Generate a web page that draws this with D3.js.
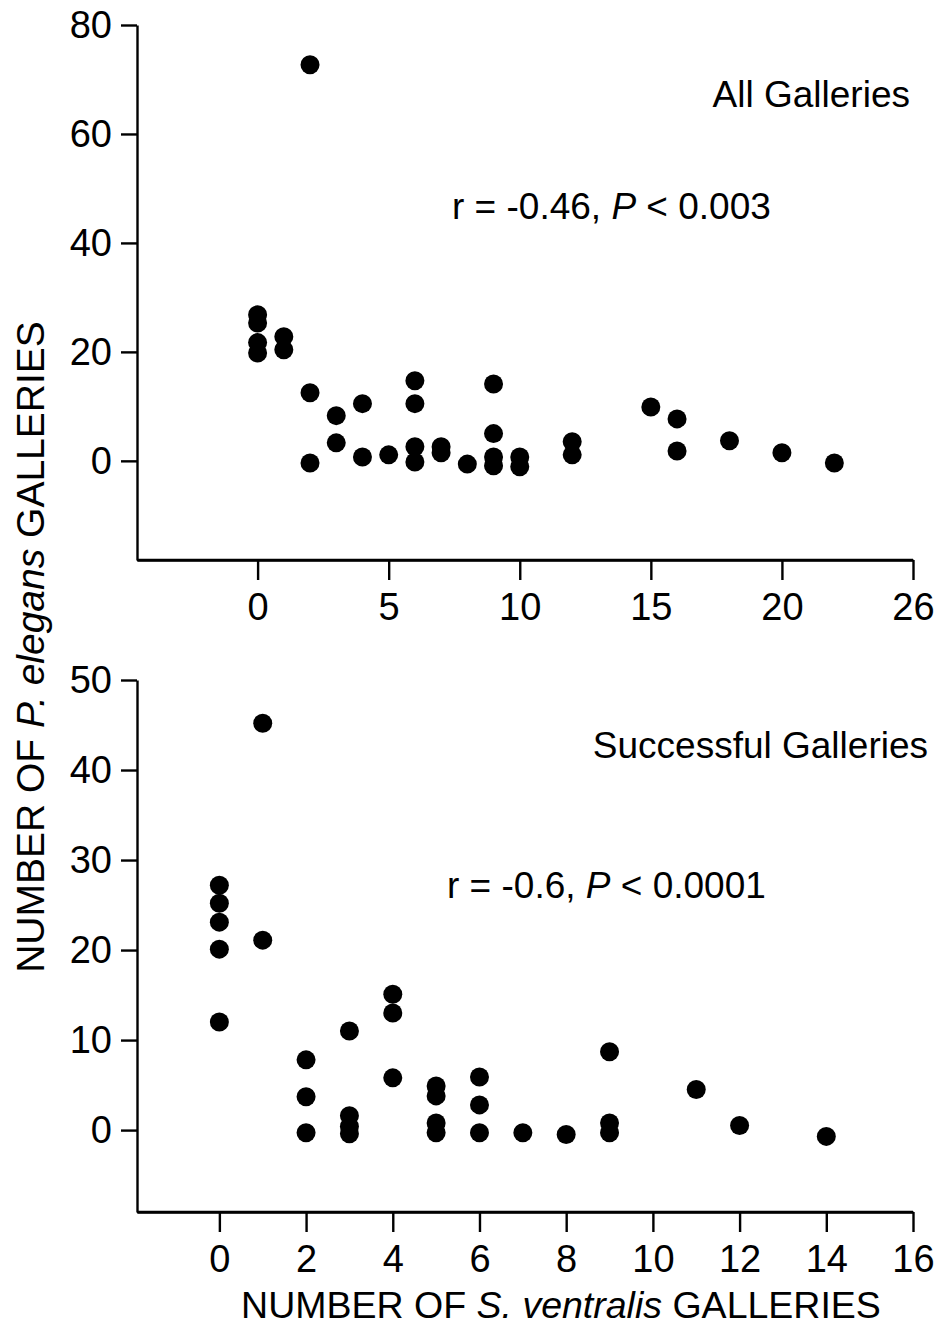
<!DOCTYPE html>
<html>
<head>
<meta charset="utf-8">
<script src="https://cdn.jsdelivr.net/npm/d3@7"></script>
<style>
  html, body { margin: 0; padding: 0; background: #fff; }
  svg { display: block; font-family: "Liberation Sans", Arial, Helvetica, sans-serif; }
</style>
</head>
<body>
<div id="chart"></div>
<script>
// All galleries: x = S. ventralis galleries, y = P. elegans galleries
const allX = [0, 0, 0, 0, 1, 1, 2, 2, 2, 3, 3, 4, 4, 5, 6, 6, 6, 6, 7, 7, 8, 9, 9, 9, 9, 10, 10, 12, 12, 15, 16, 16, 18, 20, 22]
const allY = [26.8, 25.3, 21.7, 19.8, 22.8, 20.4, 72.7, 12.5, -0.4, 8.3, 3.3, 10.5, 0.7, 1.1, 14.7, 10.5, 2.6, -0.2, 2.6, 1.5, -0.6, 14.1, 5, 0.7, -0.9, 0.7, -1.1, 3.5, 1.1, 9.9, 7.7, 1.8, 3.7, 1.5, -0.4]

// Successful galleries
const succX = [0, 0, 0, 0, 0, 1, 1, 2, 2, 2, 3, 3, 3, 3, 4, 4, 4, 5, 5, 5, 5, 6, 6, 6, 7, 8, 9, 9, 9, 11, 12, 14]
const succY = [27.2, 25.2, 23.1, 20.1, 12, 45.2, 21.1, 7.8, 3.7, -0.3, 11, 1.6, 0.4, -0.4, 15.1, 13, 5.8, 4.9, 3.8, 0.8, -0.3, 5.9, 2.8, -0.3, -0.3, -0.5, 8.7, 0.8, -0.3, 4.5, 0.5, -0.7]

const topXTicks = [0, 5, 10, 15, 20, 25]
const topXLabels = ['0', '5', '10', '15', '20', '26']
const topYTicks = [0, 20, 40, 60, 80]
const botXTicks = [0, 2, 4, 6, 8, 10, 12, 14, 16]
const botYTicks = [0, 10, 20, 30, 40, 50]

const W = 944, H = 1329
const svg = d3.select('#chart').append('svg')
  .attr('width', W)
  .attr('height', H)

function panel(cfg) {
  const x = d3.scaleLinear().domain(cfg.xDomain).range([137, 913])
  const y = d3.scaleLinear().domain(cfg.yDomain).range([cfg.bottom, cfg.top])
  const g = svg.append('g')

  const xAxis = d3.axisBottom(x)
    .tickValues(cfg.xTicks)
    .tickSize(20)
    .tickSizeOuter(0)
    .tickPadding(13)
    .tickFormat((d, i) => cfg.xLabels ? cfg.xLabels[i] : d)
  const yAxis = d3.axisLeft(y)
    .tickValues(cfg.yTicks)
    .tickSize(16)
    .tickSizeOuter(0)
    .tickPadding(9)

  const gx = g.append('g').attr('transform', `translate(0,${cfg.bottom})`).call(xAxis)
  const gy = g.append('g').attr('transform', 'translate(137,0)').call(yAxis)
  for (const a of [gx, gy]) {
    a.selectAll('path, line').attr('stroke', '#000').attr('stroke-width', 2.4)
    a.selectAll('text').attr('fill', '#000').attr('font-size', 38)
      .attr('font-family', '"Liberation Sans", Arial, sans-serif')
  }
  // close the corner where the two axis lines meet
  g.append('path')
    .attr('d', `M137,${cfg.bottom}H${x.range()[1]}`)
    .attr('stroke', '#000').attr('stroke-width', 2.4)

  g.append('g').selectAll('circle')
    .data(cfg.xs.map((v, i) => [v, cfg.ys[i]]))
    .join('circle')
    .attr('cx', d => x(d[0]))
    .attr('cy', d => y(d[1]))
    .attr('r', 9.5)
    .attr('fill', '#000')

  g.append('text')
    .attr('x', cfg.titleX).attr('y', cfg.titleY)
    .attr('text-anchor', 'end')
    .attr('font-size', 37)
    .text(cfg.title)

  const st = g.append('text')
    .attr('x', cfg.statX).attr('y', cfg.statY)
    .attr('font-size', 37)
  st.append('tspan').text(cfg.stat[0])
  st.append('tspan').attr('font-style', 'italic').text('P')
  st.append('tspan').text(cfg.stat[1])
}

panel({
  xDomain: [-4.6, 25], yDomain: [-18.2, 80], top: 25, bottom: 560,
  xTicks: topXTicks, xLabels: topXLabels, yTicks: topYTicks,
  xs: allX, ys: allY,
  title: 'All Galleries', titleX: 910, titleY: 107,
  stat: ['r = -0.46,  ', ' < 0.003'], statX: 452, statY: 219
})

panel({
  xDomain: [-1.9, 16], yDomain: [-9.1, 50], top: 680, bottom: 1212,
  xTicks: botXTicks, yTicks: botYTicks,
  xs: succX, ys: succY,
  title: 'Successful Galleries', titleX: 928, titleY: 758,
  stat: ['r = -0.6,  ', ' < 0.0001'], statX: 447, statY: 898
})

// axis titles
const yt = svg.append('text')
  .attr('transform', 'translate(44,647) rotate(-90)')
  .attr('text-anchor', 'middle')
  .attr('font-size', 39)
yt.append('tspan').text('NUMBER OF ')
yt.append('tspan').attr('font-style', 'italic').text('P. elegans')
yt.append('tspan').text(' GALLERIES')

const xt = svg.append('text')
  .attr('x', 561).attr('y', 1318)
  .attr('text-anchor', 'middle')
  .attr('font-size', 37.5)
xt.append('tspan').text('NUMBER OF ')
xt.append('tspan').attr('font-style', 'italic').text('S. ventralis')
xt.append('tspan').text(' GALLERIES')
</script>
</body>
</html>
